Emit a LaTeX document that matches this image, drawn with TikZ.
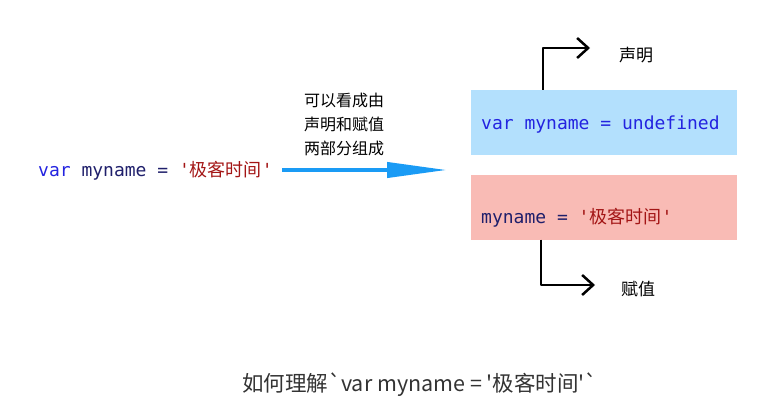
\documentclass[tikz,border=0pt]{standalone}
\usepackage{fontspec}
\usetikzlibrary{arrows.meta}
\setmainfont{Noto Sans CJK SC}
\newfontfamily\cjk{Noto Sans CJK SC}
\newfontfamily\capfont{Noto Sans CJK SC}
\setmonofont{DejaVu Sans Mono}
\newfontfamily\codecjk{Noto Sans CJK SC}
\definecolor{KeyBlue}{RGB}{35, 35, 224}
\definecolor{VarNavy}{RGB}{31, 31, 107}
\definecolor{StrRed}{RGB}{163, 21, 21}
\definecolor{DeclFill}{RGB}{179, 224, 253}
\definecolor{AssignFill}{RGB}{249, 187, 181}
\definecolor{FlowBlue}{RGB}{26, 155, 245}
\definecolor{CaptionGray}{RGB}{51, 51, 51}
\newcommand{\kw}[1]{\textcolor{KeyBlue}{#1}}
\newcommand{\vr}[1]{\textcolor{VarNavy}{#1}}
\newcommand{\str}[1]{\textcolor{StrRed}{'{\codecjk #1}'}}

\begin{document}
\begin{tikzpicture}[x=1pt, y=-1pt,
    code/.style={anchor=base west, inner sep=0pt, font=\ttfamily\fontsize{18}{20}\selectfont},
    note/.style={inner sep=0pt, font=\cjk\fontsize{16}{18}\selectfont},
    codebox/.style={minimum width=266pt, minimum height=65pt, inner sep=0pt},
    handarrow/.style={line width=2.5pt, line join=round, -{Straight Barb[length=11pt, width=20pt, line width=2.5pt]}}]
  \useasboundingbox (0,0) rectangle (767,409);
  % left statement
  \node[code] (stmt) at (38,176) {\kw{var} \vr{myname =} \str{极客时间}};
  \coordinate (flowstart) at (282,170);
  \coordinate (flowend) at (447,170);
  \draw[FlowBlue, line width=4pt, -{Triangle[length=60pt, width=15pt]}] (flowstart) -- (flowend);
  \node[note] (note1) at (344,100) {可以看成由};
  \node[note] (note2) at (344,124) {声明和赋值};
  \node[note] (note3) at (344,148) {两部分组成};
  % the two parts
  \node[codebox, fill=DeclFill] (declbox) at (604,122.5) {};
  \node[codebox, fill=AssignFill] (assignbox) at (604,207) {};
  \node[code] (decltext) at (481,129) {\kw{var myname = undefined}};
  \node[code] (assigntext) at (481,223) {\vr{myname =} \str{极客时间}};
  % hand drawn arrows
  \coordinate (declend) at (590,48);
  \coordinate (assignend) at (595,285);
  \draw[handarrow] ([xshift=-61pt]declbox.north) |- (declend);
  \draw[handarrow] ([xshift=-63pt]assignbox.south) |- (assignend);
  \node[note, font=\cjk\fontsize{17}{19}\selectfont] (decllabel) at (636,55) {声明};
  \node[note, font=\cjk\fontsize{17}{19}\selectfont] (assignlabel) at (638,289) {赋值};
  % caption
  \node[inner sep=0pt, text=CaptionGray, font=\capfont\fontsize{21.5}{24}\selectfont] (caption) at (420,385) {如何理解`var myname = '极客时间'`};
\end{tikzpicture}
\end{document}
